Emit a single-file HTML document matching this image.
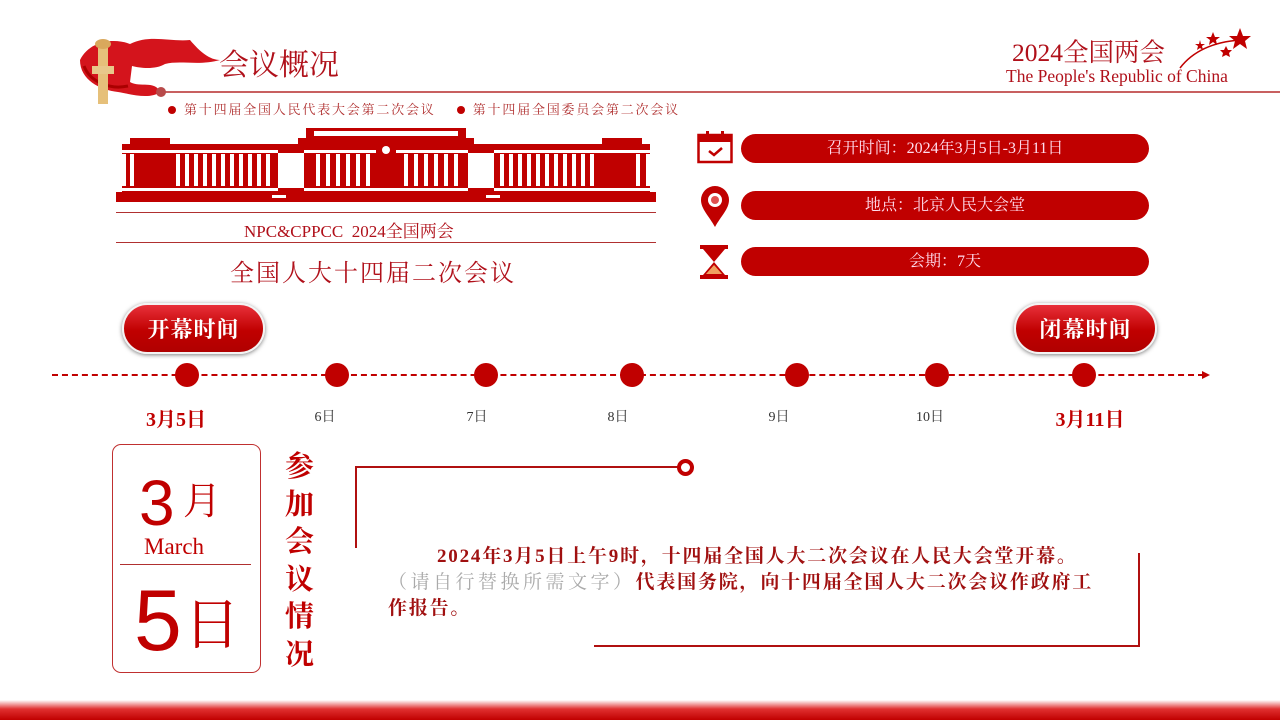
<!DOCTYPE html>
<html><head><meta charset="utf-8">
<style>
*{margin:0;padding:0;box-sizing:border-box}
body{width:1280px;height:720px;overflow:hidden;background:#fff;position:relative;font-family:"Liberation Serif","Noto Serif CJK SC",serif;color:#c00000}
.a{position:absolute;white-space:nowrap}
.pill{position:absolute;left:741px;width:408px;height:29px;border-radius:15px;background:#c00000;color:#fde;font-size:16px;text-align:center;line-height:29px}
.btn{position:absolute;top:303px;width:143px;height:51px;border-radius:26px;background:linear-gradient(#e8303a,#c00000 55%,#b00000);border:2px solid #f3f3f3;box-shadow:0 1px 4px rgba(0,0,0,.5);color:#fff;font-size:22px;font-weight:bold;text-align:center;line-height:47px;font-family:"Noto Serif CJK SC",serif;letter-spacing:1px}
.dot{position:absolute;top:363px;width:24px;height:24px;border-radius:50%;background:#c00000}
.dl{position:absolute;top:406px;font-size:14px;color:#333;transform:translateX(-50%)}
</style></head><body>
<svg class="a" style="left:70px;top:30px" width="160" height="80" viewBox="0 0 160 80">
<path d="M10 30 C20 10 45 8 60 14 C80 4 100 12 120 10 C130 22 140 30 150 30 C130 36 110 30 95 34 C85 40 70 38 62 36 L60 52 C70 58 85 50 90 62 C80 70 60 64 48 62 C30 60 10 50 10 30Z" fill="#d4141c"/>
<path d="M14 36 C20 52 40 60 58 56" stroke="#a00" stroke-width="3" fill="none"/>
<rect x="28" y="14" width="10" height="60" fill="#e6c07a"/>
<rect x="22" y="36" width="22" height="8" fill="#e8c88a"/>
<ellipse cx="33" cy="14" rx="8" ry="5" fill="#d9a85c"/>
</svg>
<div class="a" style="left:219px;top:40px;font-size:30px;color:#b0101a">会议概况</div>
<div class="a" style="left:160px;top:91px;width:1120px;height:2px;background:#c86060"></div>
<div class="a" style="left:156px;top:87px;width:10px;height:10px;border-radius:50%;background:#b84a4a"></div>
<div class="a" style="left:168px;top:99px;font-size:13px;color:#b03030;letter-spacing:1.8px"><span style="display:inline-block;width:8px;height:8px;border-radius:50%;background:#c00000;margin-right:8px"></span>第十四届全国人民代表大会第二次会议 &nbsp; <span style="display:inline-block;width:8px;height:8px;border-radius:50%;background:#c00000;margin:0 8px 0 6px"></span>第十四届全国委员会第二次会议</div>
<svg class="a" style="left:116px;top:128px" width="540" height="76" viewBox="0 0 540 76">
<g fill="#c00000">
<rect x="0" y="64" width="540" height="10"/>
<rect x="190" y="0" width="160" height="10"/>
<rect x="182" y="10" width="176" height="12"/>
<rect x="14" y="10" width="40" height="8"/><rect x="486" y="10" width="40" height="8"/>
<rect x="6" y="16" width="528" height="10"/>
<rect x="10" y="26" width="520" height="34"/>
<rect x="6" y="58" width="528" height="6"/>
</g>
<g fill="#fff">
<rect x="6" y="22" width="156" height="3"/><rect x="188" y="22" width="72" height="3"/><rect x="280" y="22" width="72" height="3"/><rect x="378" y="22" width="156" height="3"/>
<rect x="6" y="60" width="156" height="3"/><rect x="188" y="60" width="164" height="3"/><rect x="378" y="60" width="156" height="3"/>
<rect x="162" y="25" width="26" height="35"/><rect x="352" y="25" width="26" height="35"/>
<rect x="198" y="3" width="144" height="5"/>
<circle cx="270" cy="22" r="4"/>
<rect x="156" y="67" width="14" height="3"/><rect x="370" y="67" width="14" height="3"/>
</g>
<g fill="#fff">
<rect x="60" y="26" width="4" height="32"/><rect x="69" y="26" width="4" height="32"/><rect x="78" y="26" width="4" height="32"/><rect x="87" y="26" width="4" height="32"/><rect x="96" y="26" width="4" height="32"/><rect x="105" y="26" width="4" height="32"/><rect x="114" y="26" width="4" height="32"/><rect x="123" y="26" width="4" height="32"/><rect x="132" y="26" width="4" height="32"/><rect x="141" y="26" width="4" height="32"/><rect x="150" y="26" width="4" height="32"/>
<rect x="14" y="26" width="4" height="32"/>
<rect x="200" y="26" width="4" height="32"/><rect x="210" y="26" width="4" height="32"/><rect x="220" y="26" width="4" height="32"/><rect x="230" y="26" width="4" height="32"/><rect x="240" y="26" width="4" height="32"/><rect x="250" y="26" width="4" height="32"/>
<rect x="288" y="26" width="4" height="32"/><rect x="298" y="26" width="4" height="32"/><rect x="308" y="26" width="4" height="32"/><rect x="318" y="26" width="4" height="32"/><rect x="328" y="26" width="4" height="32"/><rect x="338" y="26" width="4" height="32"/>
<rect x="384" y="26" width="4" height="32"/><rect x="393" y="26" width="4" height="32"/><rect x="402" y="26" width="4" height="32"/><rect x="411" y="26" width="4" height="32"/><rect x="420" y="26" width="4" height="32"/><rect x="429" y="26" width="4" height="32"/><rect x="438" y="26" width="4" height="32"/><rect x="447" y="26" width="4" height="32"/><rect x="456" y="26" width="4" height="32"/><rect x="465" y="26" width="4" height="32"/><rect x="474" y="26" width="4" height="32"/>
<rect x="520" y="26" width="4" height="32"/>
</g>
</svg>
<div class="a" style="left:116px;top:212px;width:540px;height:1px;background:#b03030"></div>
<div class="a" style="left:116px;top:242px;width:540px;height:1px;background:#b03030"></div>
<div class="a" style="left:244px;top:217px;font-size:17px;color:#b0101a">NPC&amp;CPPCC&nbsp; 2024全国两会</div>
<div class="a" style="left:230px;top:253px;font-size:24px;color:#b0101a;letter-spacing:2px">全国人大十四届二次会议</div>
<div class="a" style="left:1012px;top:33px;font-size:25.5px;color:#b0101a">2024全国两会</div>
<div class="a" style="left:1006px;top:66px;font-size:17.5px;color:#b0101a">The People's Republic of China</div>
<svg class="a" style="left:1178px;top:26px" width="74" height="44" viewBox="0 0 74 44">
<path d="M2 42 C15 25 35 16 62 14" stroke="#c00000" stroke-width="1.5" fill="none"/>
<polygon fill="#c00000" points="62,2 65,10 73,10 67,15 69,23 62,18 55,23 57,15 51,10 59,10"/>
<polygon fill="#c00000" points="35,6 37,11 42,11 38,14 39,19 35,16 31,19 32,14 28,11 33,11"/>
<polygon fill="#c00000" points="48,20 50,24 54,24 51,27 52,31 48,29 44,31 45,27 42,24 46,24"/>
<polygon fill="#c00000" points="22,14 23,18 27,18 24,20 25,24 22,22 19,24 20,20 17,18 21,18"/>
</svg>
<svg class="a" style="left:697px;top:130px" width="36" height="34" viewBox="0 0 36 34"><rect x="1.5" y="5" width="33" height="27" fill="none" stroke="#c00000" stroke-width="2.5"/><rect x="1.5" y="5" width="33" height="7" fill="#c00000"/><rect x="9" y="1" width="3" height="8" fill="#c00000"/><rect x="24" y="1" width="3" height="8" fill="#c00000"/><path d="M12 21 l5 4 l8-7" stroke="#c00000" stroke-width="2.5" fill="none"/></svg>
<svg class="a" style="left:699px;top:184px" width="32" height="44" viewBox="0 0 32 44"><path d="M16 43 C10 32 2 25 2 16 A14 14 0 0 1 30 16 C30 25 22 32 16 43Z" fill="#c00000"/><circle cx="16" cy="16" r="7" fill="#fff"/><circle cx="16" cy="16" r="4" fill="#e05050"/></svg>
<svg class="a" style="left:699px;top:244px" width="30" height="36" viewBox="0 0 30 36"><rect x="1" y="1" width="28" height="4" fill="#c00000"/><rect x="1" y="31" width="28" height="4" fill="#c00000"/><path d="M4 5 L26 5 L15 18 L26 31 L4 31 L15 18Z" fill="#c00000"/><path d="M15 21 L23 30 L7 30Z" fill="#f0a060"/></svg>
<div class="pill" style="top:134px">召开时间：2024年3月5日-3月11日</div>
<div class="pill" style="top:191px">地点：北京人民大会堂</div>
<div class="pill" style="top:247px">会期：7天</div>
<div class="btn" style="left:122px">开幕时间</div>
<div class="btn" style="left:1014px">闭幕时间</div>
<div class="a" style="left:52px;top:374px;width:1152px;border-top:2px dashed #c00000"></div>
<div class="a" style="left:1202px;top:371px;width:0;height:0;border-left:8px solid #c00000;border-top:4px solid transparent;border-bottom:4px solid transparent"></div>
<div class="dot" style="left:175px"></div><div class="dot" style="left:325px"></div><div class="dot" style="left:474px"></div><div class="dot" style="left:620px"></div><div class="dot" style="left:785px"></div><div class="dot" style="left:925px"></div><div class="dot" style="left:1072px"></div>
<div class="dl" style="left:176px;top:403px;font-size:20px;font-weight:bold;color:#c00000">3月5日</div>
<div class="dl" style="left:325px">6日</div><div class="dl" style="left:477px">7日</div><div class="dl" style="left:618px">8日</div><div class="dl" style="left:779px">9日</div><div class="dl" style="left:930px">10日</div>
<div class="dl" style="left:1090px;top:403px;font-size:20px;font-weight:bold;color:#c00000">3月11日</div>
<div class="a" style="left:112px;top:444px;width:149px;height:229px;border:1.5px solid #c03030;border-radius:9px"></div>
<div class="a" style="left:139px;top:470px;font-size:64px;line-height:66px;font-family:'Liberation Sans',sans-serif;color:#c00000">3</div>
<div class="a" style="left:183px;top:482px;font-size:38px;line-height:40px">月</div>
<div class="a" style="left:144px;top:533px;font-size:23px;line-height:28px">March</div>
<div class="a" style="left:120px;top:564px;width:131px;height:1px;background:#b03030"></div>
<div class="a" style="left:134px;top:576px;font-size:86px;line-height:90px;font-family:'Liberation Sans',sans-serif">5</div>
<div class="a" style="left:184px;top:596px;font-size:56px;line-height:60px">日</div>
<div class="a" style="left:285px;top:446px;width:36px;font-size:29px;line-height:37.5px;font-weight:bold;white-space:normal;font-family:'Noto Serif CJK SC',serif;color:#c00000">参加会议情况</div>
<div class="a" style="left:355px;top:466px;width:1.5px;height:82px;background:#b01010"></div>
<div class="a" style="left:355px;top:466px;width:324px;height:1.5px;background:#b01010"></div>
<div class="a" style="left:677px;top:459px;width:17px;height:17px;border-radius:50%;border:4px solid #c00000;background:#fff"></div>
<div class="a" style="left:594px;top:645px;width:546px;height:1.5px;background:#b01010"></div>
<div class="a" style="left:1138px;top:553px;width:1.5px;height:93px;background:#b01010"></div>
<div class="a" style="left:437px;top:541px;font-size:19px;font-weight:bold;color:#a01010;letter-spacing:1.8px">2024年3月5日上午9时，十四届全国人大二次会议在人民大会堂开幕。</div>
<div class="a" style="left:388px;top:567px;font-size:19px;"><span style="color:#aaa;letter-spacing:3.5px">（请自行替换所需文字）</span><b style="color:#a01010;letter-spacing:1.8px">代表国务院，向十四届全国人大二次会议作政府工</b></div>
<div class="a" style="left:388px;top:593px;font-size:19px;font-weight:bold;color:#a01010;letter-spacing:1.8px">作报告。</div>
<div class="a" style="left:0;top:700px;width:1280px;height:20px;background:linear-gradient(#fff,#e03030 45%,#c00000)"></div>
</body></html>
